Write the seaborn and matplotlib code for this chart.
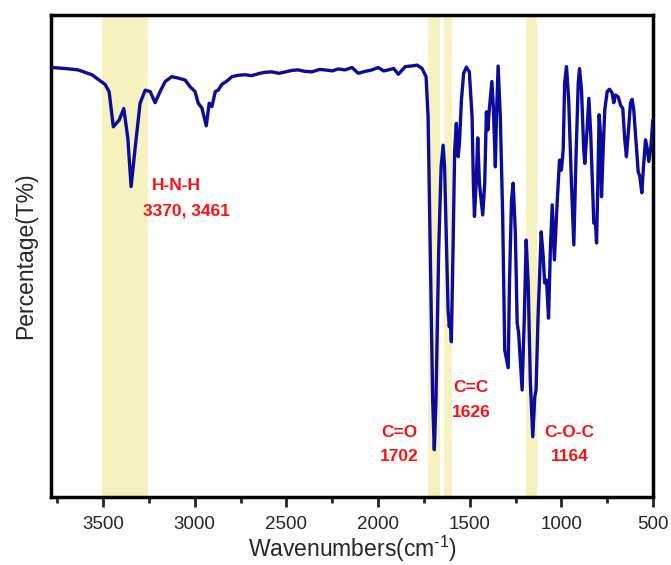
import pandas as pd
import seaborn as sns
import matplotlib
matplotlib.use('Agg')
import matplotlib.pyplot as plt
from matplotlib.ticker import MultipleLocator

# FTIR spectrum (wavenumber, transmittance in arbitrary %)
wavenumber = [3780, 3707, 3636, 3561, 3489, 3467, 3444, 3412, 3387, 3365, 3347, 3325,
              3298, 3270, 3243, 3216, 3189, 3161, 3125, 3090, 3052, 3025, 2998, 2981,
              2961, 2937, 2921, 2906, 2888, 2872, 2852, 2824, 2797, 2760, 2725, 2690,
              2654, 2620, 2579, 2540, 2506, 2470, 2435, 2400, 2360, 2320, 2288, 2250,
              2217, 2180, 2142, 2108, 2070, 2033, 1999, 1970, 1944, 1915, 1889, 1851,
              1820, 1787, 1760, 1738, 1727, 1715, 1702, 1693, 1684, 1669, 1656, 1645,
              1637, 1626, 1618, 1611, 1606, 1600, 1591, 1582, 1573, 1563, 1556, 1545,
              1533, 1518, 1502, 1487, 1480, 1474, 1465, 1456, 1447, 1429, 1418, 1409,
              1401, 1393, 1379, 1371, 1360, 1354, 1345, 1333, 1320, 1309, 1290, 1283,
              1272, 1263, 1251, 1241, 1233, 1214, 1202, 1192, 1181, 1169, 1156, 1145,
              1138, 1127, 1110, 1099, 1091, 1081, 1070, 1060, 1050, 1038, 1023, 1010,
              1000, 990, 982, 972, 960, 945, 932, 919, 908, 901, 890, 878, 872, 861,
              850, 840, 823, 814, 808, 801, 794, 787, 781, 772, 763, 750, 737, 723,
              714, 705, 690, 677, 665, 654, 645, 635, 623, 614, 605, 592, 581, 572,
              561, 552, 541, 532, 523, 512, 501]
transmittance = [89.1, 88.9, 88.6, 87.6, 85.6, 84.1, 76.8, 78.2, 80.6, 74.5, 64.4, 72.4,
                 81.7, 84.4, 84.1, 81.8, 84.1, 86.2, 87.2, 86.9, 86.5, 85.1, 84.1, 81.7,
                 80.7, 77.0, 81.7, 81.0, 84.1, 84.4, 85.6, 86.3, 87.2, 87.5, 87.6, 87.4,
                 87.8, 88.1, 88.2, 87.9, 88.2, 88.5, 88.6, 88.3, 88.2, 88.7, 88.6, 88.4,
                 88.8, 88.6, 89.1, 87.9, 88.3, 88.6, 89.1, 88.4, 88.6, 88.9, 87.7, 89.3,
                 89.4, 89.6, 88.9, 87.2, 78.9, 51.2, 20.1, 9.8, 20.1, 51.2, 68.5, 73.0,
                 68.5, 51.2, 38.8, 35.3, 37.4, 32.2, 51.2, 72.0, 77.5, 70.6, 73.4, 82.4,
                 87.9, 89.2, 88.2, 78.9, 65.1, 58.2, 65.1, 74.5, 65.1, 58.5, 65.1, 79.9,
                 76.1, 80.4, 86.2, 80.9, 68.5, 78.9, 89.4, 78.9, 58.2, 30.5, 26.8, 44.4,
                 61.6, 65.1, 54.8, 36.1, 34.0, 22.2, 37.4, 53.3, 44.4, 23.7, 12.5, 20.8,
                 22.2, 37.4, 55.0, 49.9, 44.4, 45.0, 37.1, 51.2, 60.6, 49.2, 61.0, 69.9,
                 67.8, 72.0, 85.8, 89.3, 82.4, 65.1, 52.3, 72.0, 85.8, 88.9, 84.4, 72.0, 69.2, 75.5,
                 82.7, 75.5, 56.8, 57.1, 52.7, 65.1, 79.3, 75.5, 62.3, 72.0, 80.4, 84.1, 84.6, 83.8,
                 81.8, 83.4, 83.0, 81.3, 80.6, 74.1, 70.6, 75.5, 81.7, 82.5, 80.3, 73.4, 67.5, 66.5,
                 63.1, 68.5, 74.1, 72.4, 69.6, 72.4, 78.2]

# highlighted bands (start, end in cm-1)
band_start = [3505, 1730, 1642, 1194]
band_end = [3255, 1664, 1598, 1134]

# annotations
label_text = ['H-N-H', '3370, 3461', 'C=O', '1702', 'C=C', '1626', 'C-O-C', '1164']
label_x = [3100, 3047, 1884, 1884, 1491, 1491, 956, 956]
label_y = [64.7, 59.4, 13.4, 8.3, 22.8, 17.6, 13.4, 8.3]

df = pd.DataFrame({'wavenumber': wavenumber, 'T': transmittance})

sns.set_style('white')
plt.rcParams['font.family'] = ['Liberation Sans', 'DejaVu Sans']
plt.rcParams['mathtext.fontset'] = 'custom'
plt.rcParams['mathtext.rm'] = 'Liberation Sans'
plt.rcParams['mathtext.default'] = 'regular'

fig = plt.figure(figsize=(6.71, 5.65), dpi=100)
ax = fig.add_axes([0.076, 0.1204, 0.8972, 0.8531])

for s, e in zip(band_start, band_end):
    ax.axvspan(e, s, color='#f5f2c0', lw=0, zorder=0)

sns.lineplot(data=df, x='wavenumber', y='T', ax=ax, color='#0c0c9c',
             linewidth=2.4, sort=False, zorder=3)

for t, x, y in zip(label_text, label_x, label_y):
    ax.text(x, y, t, color='#ff1010', fontsize=12.5, fontweight='bold',
            ha='center', va='center')

ax.set_xlim(3784, 500)
ax.set_ylim(0, 100)
ax.xaxis.set_major_locator(MultipleLocator(500))
ax.xaxis.set_minor_locator(MultipleLocator(250))
ax.tick_params(axis='x', which='major', direction='out', length=7, width=2,
               labelsize=13.5, pad=7, bottom=True)
ax.tick_params(axis='x', which='minor', direction='out', length=4, width=2, bottom=True)
ax.set_yticks([])
for sp in ax.spines.values():
    sp.set_linewidth(2.5)
    sp.set_color('black')

ax.set_xlabel(r'Wavenumbers(cm$^{\text{-}1}$)', fontsize=16.5, labelpad=0)
ax.set_ylabel('Percentage(T%)', fontsize=16.5, labelpad=10)

fig.savefig('out.png', dpi=100)
